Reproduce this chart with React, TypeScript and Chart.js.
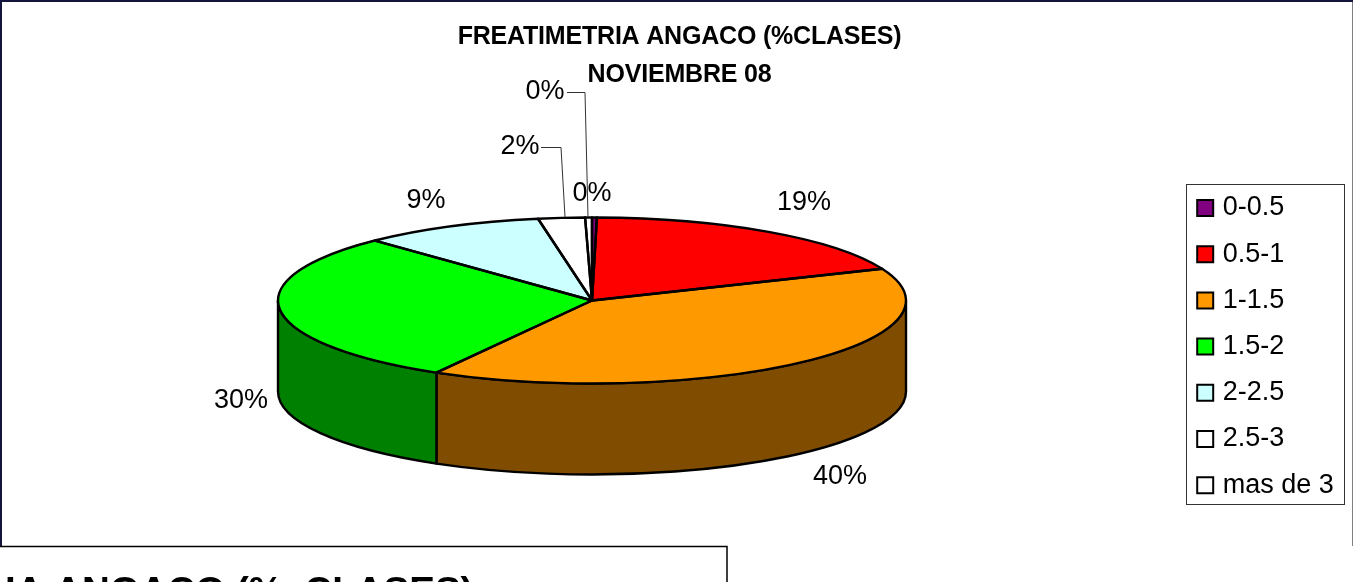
import React, { useEffect, useRef } from "react";
import { Chart, registerables } from "chart.js";

Chart.register(...registerables);

const categories = ["0-0.5", "0.5-1", "1-1.5", "1.5-2", "2-2.5", "2.5-3", "mas de 3"];
const shares = [0.25, 18.5, 39.5, 29.6, 9.4, 2.4, 0.35];
const sliceColors = ["#800080", "#FF0000", "#FF9900", "#00FF00", "#CCFFFF", "#FFFFFF", "#FFFFFF"];
const wallColors = ["#400040", "#800000", "#804C00", "#008000", "#668080", "#808080", "#808080"];
const titleLines = ["FREATIMETRIA ANGACO (%CLASES)", "NOVIEMBRE 08"];
const lowerPanelText = "IA ANGACO (%  CLASES)";

const FONT = "'Liberation Sans', Arial, sans-serif";
const CX = 592, CY = 300.5, RX = 314, RY = 83, DEPTH = 91;

// label centre and optional leader-line path, one per slice
const labelPlacement: { x: number; y: number; leader?: number[][] }[] = [
  { x: 592, y: 194 },
  { x: 804, y: 203 },
  { x: 840, y: 477 },
  { x: 241, y: 401 },
  { x: 426, y: 201 },
  { x: 520, y: 147, leader: [[541, 147.5], [561, 147.5], [565, 217]] },
  { x: 545, y: 92, leader: [[567, 92.5], [585, 92.5], [588, 217]] },
];

const pie3d = {
  id: "pie3d",
  beforeDraw(chart: any) {
    const { ctx } = chart;
    ctx.save();
    ctx.fillStyle = "#FFFFFF";
    ctx.fillRect(0, 0, 1353, 582);
    ctx.fillStyle = "#14143C";
    ctx.fillRect(0, 0, 1353, 2);
    ctx.fillRect(0, 0, 2, 546);
    ctx.fillStyle = "#808080";
    ctx.fillRect(1352, 2, 1, 544);
    ctx.strokeStyle = "#333333";
    ctx.lineWidth = 1;
    ctx.strokeRect(1186.5, 184.5, 158, 320);
    ctx.strokeStyle = "#000000";
    ctx.lineWidth = 1.5;
    ctx.beginPath();
    ctx.moveTo(0, 546.5);
    ctx.lineTo(727, 546.5);
    ctx.lineTo(727, 582);
    ctx.stroke();
    ctx.fillStyle = "#000000";
    ctx.font = `bold 38.5px ${FONT}`;
    ctx.textBaseline = "alphabetic";
    ctx.textAlign = "left";
    ctx.fillText(lowerPanelText, 5, 604);
    ctx.restore();
  },
  afterLayout(chart: any) {
    const legend = chart.legend;
    legend.left = 1182;
    legend.top = 175.3;
    const block = chart.titleBlock;
    if (!block.__tight) {
      block.__tight = true;
      const draw = block.draw;
      block.draw = function () {
        chart.ctx.save();
        chart.ctx.letterSpacing = "-0.2px";
        chart.ctx.translate(3, 0);
        draw.call(block);
        chart.ctx.restore();
      };
    }
  },
  beforeDatasetsDraw(chart: any) {
    const { ctx } = chart;
    const arcs = chart.getDatasetMeta(0).data;
    ctx.save();
    ctx.lineWidth = 2.4;
    ctx.strokeStyle = "#000000";
    ctx.lineJoin = "round";
    arcs.forEach((arc: any, i: number) => {
      const a0 = Math.max(arc.startAngle, 0);
      const a1 = Math.min(arc.endAngle, Math.PI);
      if (a1 <= a0) return;
      ctx.beginPath();
      ctx.ellipse(CX, CY, RX, RY, 0, a0, a1);
      ctx.ellipse(CX, CY + DEPTH, RX, RY, 0, a1, a0, true);
      ctx.closePath();
      ctx.fillStyle = wallColors[i];
      ctx.fill();
      ctx.stroke();
    });
    ctx.restore();
    const first = arcs[0];
    ctx.save();
    ctx.translate(CX, CY);
    ctx.scale(RX / first.outerRadius, RY / first.outerRadius);
    ctx.translate(-first.x, -first.y);
  },
  afterDatasetsDraw(chart: any) {
    const { ctx } = chart;
    ctx.restore();
    const arcs = chart.getDatasetMeta(0).data;
    ctx.save();
    ctx.lineWidth = 2.4;
    ctx.strokeStyle = "#000000";
    ctx.lineJoin = "round";
    arcs.forEach((arc: any) => {
      ctx.beginPath();
      ctx.moveTo(CX, CY);
      ctx.ellipse(CX, CY, RX, RY, 0, arc.startAngle, arc.endAngle);
      ctx.closePath();
      ctx.stroke();
    });
    ctx.font = `27px ${FONT}`;
    ctx.fillStyle = "#000000";
    ctx.textAlign = "center";
    ctx.textBaseline = "middle";
    shares.forEach((v, i) => {
      const p = labelPlacement[i];
      ctx.fillText(`${Math.round(v)}%`, p.x, p.y);
      if (p.leader) {
        ctx.beginPath();
        ctx.lineWidth = 1;
        ctx.strokeStyle = "#333333";
        p.leader.forEach(([x, y], k) => (k ? ctx.lineTo(x, y) : ctx.moveTo(x, y)));
        ctx.stroke();
      }
    });
    ctx.restore();
  },
};

export default function App() {
  const ref = useRef<HTMLCanvasElement>(null);
  useEffect(() => {
    const chart = new Chart(ref.current as HTMLCanvasElement, {
      type: "pie",
      data: {
        labels: categories,
        datasets: [
          {
            data: shares,
            backgroundColor: sliceColors,
            borderWidth: 0,
            radius: 314,
            clip: false,
          } as any,
        ],
      },
      options: {
        animation: false,
        responsive: false,
        plugins: {
          tooltip: { enabled: false },
          title: {
            display: true,
            text: titleLines,
            color: "#000000",
            font: { family: FONT, size: 25, weight: "bold", lineHeight: 1.52 },
            padding: { top: 18, bottom: 0 },
          },
          legend: {
            display: true,
            position: "right",
            align: "start",
            labels: {
              color: "#000000",
              font: { family: FONT, size: 27 },
              boxWidth: 8,
              boxHeight: 16,
              padding: 19.2,
              usePointStyle: true,
              pointStyle: "rect",
              generateLabels: () =>
                categories.map((text, i) => ({
                  text,
                  fillStyle: sliceColors[i],
                  strokeStyle: "#000000",
                  lineWidth: 2,
                  pointStyle: "rect",
                  hidden: false,
                  index: i,
                })),
            },
          },
        },
      } as any,
      plugins: [pie3d],
    });
    return () => chart.destroy();
  }, []);
  return (
    <canvas
      ref={ref}
      width={1353}
      height={582}
      style={{ position: "absolute", left: 0, top: 0, width: 1353, height: 582, display: "block" }}
    />
  );
}
